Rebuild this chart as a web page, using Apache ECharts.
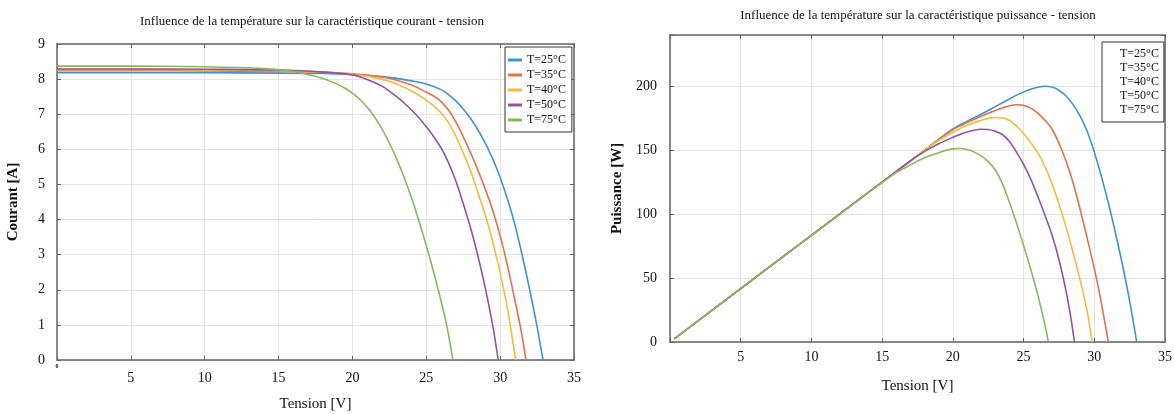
<!DOCTYPE html>
<html>
<head>
<meta charset="utf-8">
<script src="https://cdn.jsdelivr.net/npm/echarts@6/dist/echarts.min.js"></script>
<style>
html,body{margin:0;padding:0;background:#fff;}
#c{width:1174px;height:414px;}
</style>
</head>
<body>
<div id="c"></div>
<script>
// ---- Data ----
const seriesNames = ['T=25°C', 'T=35°C', 'T=40°C', 'T=50°C', 'T=75°C'];
const xTicks = [0, 5, 10, 15, 20, 25, 30, 35];

// Courant - tension  [V, I]
const iv25 = [[0,8.18],[5,8.18],[10,8.18],[15,8.17],[18,8.16],[20,8.13],[22,8.07],[23,8.02],[24,7.95],[25,7.86],[26,7.7],[26.5,7.56],[27,7.38],[27.5,7.15],[28,6.88],[28.5,6.55],[29,6.17],[29.5,5.73],[30,5.2],[30.5,4.58],[31,3.85],[31.5,2.97],[32,2.0],[32.5,0.95],[32.9,0]];
const iv35 = [[0,8.24],[5,8.24],[10,8.23],[15,8.22],[18,8.2],[20,8.15],[22,8.06],[23,7.97],[24,7.83],[25,7.63],[25.5,7.52],[26,7.36],[26.5,7.12],[27,6.78],[27.5,6.36],[28,5.9],[28.5,5.4],[29,4.86],[29.5,4.26],[30,3.54],[30.5,2.68],[31,1.7],[31.4,0.88],[31.75,0]];
const iv40 = [[0,8.27],[5,8.27],[10,8.26],[15,8.24],[18,8.2],[20,8.14],[22,8.0],[23,7.86],[24,7.66],[24.5,7.54],[25,7.4],[25.5,7.24],[26,7.04],[26.5,6.76],[27,6.37],[27.5,5.9],[28,5.38],[28.5,4.76],[29,4.12],[29.5,3.36],[30,2.48],[30.5,1.46],[31.05,0]];
const iv50 = [[0,8.29],[5,8.29],[10,8.28],[15,8.26],[18,8.2],[20,8.12],[21,7.99],[22,7.8],[22.5,7.66],[23,7.5],[23.5,7.32],[24,7.12],[24.5,6.9],[25,6.64],[25.5,6.36],[26,6.04],[26.5,5.62],[27,5.1],[27.5,4.46],[28,3.76],[28.5,2.96],[29,2.04],[29.5,0.98],[29.87,0]];
const iv75 = [[0,8.37],[5,8.37],[10,8.35],[14,8.3],[16,8.22],[17,8.13],[18,8.02],[19,7.85],[19.5,7.74],[20,7.6],[20.5,7.42],[21,7.2],[21.5,6.92],[22,6.58],[22.5,6.18],[23,5.72],[23.5,5.2],[24,4.62],[24.5,3.96],[25,3.26],[25.5,2.5],[26,1.68],[26.4,0.95],[26.8,0]];

// Puissance - tension  [V, P]
const pv25 = [[0.3,2.5],[5,41.7],[10,83.4],[15,125],[18,150],[20,166.5],[21,172.5],[22,178],[23,184],[24,190],[24.5,193],[25,195.5],[25.5,197.6],[26,199.2],[26.5,199.9],[27,199.3],[27.5,196.8],[28,192.3],[28.5,185.6],[29,176.5],[29.5,164.5],[30,148.5],[30.5,129.5],[31,108.5],[31.5,85],[32,60],[32.5,32],[33,0]];
const pv35 = [[0.3,2.5],[5,41.7],[10,83.4],[15,125],[18,150],[20,166],[21,171.5],[22,176.5],[23,181],[23.5,183],[24,184.7],[24.5,185.5],[25,185],[25.5,182.8],[26,179],[26.5,173.5],[27,166.5],[27.5,155.5],[28,141.5],[28.5,124.5],[29,103.5],[29.5,81],[30,57.5],[30.5,30.5],[30.8,12],[31.0,0]];
const pv40 = [[0.3,2.5],[5,41.7],[10,83.4],[15,125],[18,150],[19,157.5],[20,164],[21,169.5],[22,173.3],[22.5,174.8],[23,175.5],[23.5,175.2],[24,173.2],[24.5,168.7],[25,163],[25.5,156],[26,148],[26.5,137.5],[27,124],[27.5,108],[28,90],[28.5,70],[29,48.4],[29.5,24],[29.85,0]];
const pv50 = [[0.3,2.5],[5,41.7],[10,83.4],[15,125],[17,141.5],[18,149],[19,155],[20,160],[20.5,162.3],[21,164.2],[21.5,165.6],[22,166.3],[22.5,166.1],[23,164.8],[23.5,162.2],[24,156.8],[24.5,148.5],[25,138.8],[25.5,127.5],[26,114],[26.5,99.5],[27,84],[27.5,64.5],[28,40],[28.3,22],[28.6,0]];
const pv75 = [[0.3,2.5],[5,41.7],[10,83.4],[14,116.5],[16,132.5],[17,138.5],[18,144],[19,148],[19.5,149.8],[20,151],[20.5,151.3],[21,150.5],[21.5,148.6],[22,145.5],[22.5,141],[23,134.5],[23.5,124],[24,109],[24.5,93],[25,75.5],[25.5,57],[26,37],[26.5,14],[26.75,0]];

const ivData = [iv25, iv35, iv40, iv50, iv75];
const pvData = [pv25, pv35, pv40, pv50, pv75];

// ---- Styles ----
const colors = ['#3e93d3', '#e0724c', '#f0bd3e', '#9550a8', '#8ab75f'];
const FONT = 'Liberation Serif';
const frameColor = '#666';
const gridColor = '#e4e4e4';

function mainX(gi, hideZero, small, gap) {
  return {
    type: 'value', gridIndex: gi, min: 0, max: 35, interval: 5,
    name: 'Tension [V]', nameLocation: 'middle', nameGap: gap,
    nameTextStyle: { fontFamily: FONT, fontSize: 15, color: '#111' },
    axisLine: { show: true, onZero: false, lineStyle: { color: frameColor, width: 1.5 } },
    axisTick: { show: true, inside: true, length: 4, lineStyle: { color: frameColor } },
    splitLine: { show: true, lineStyle: { color: gridColor, width: 1 } },
    axisLabel: small ? {
      margin: 3, color: '#111', fontFamily: FONT,
      formatter: v => v === 0 ? '{s|0}' : '{n|' + v + '}',
      rich: { n: { fontSize: 14, fontFamily: FONT, color: '#111', padding: [8, 0, 0, 0] },
              s: { fontSize: 6, fontFamily: FONT, fontWeight: 'bold', color: '#111' } }
    } : {
      margin: 8, color: '#111', fontFamily: FONT, fontSize: 14,
      formatter: v => (hideZero && v === 0) ? '' : v
    }
  };
}
function frameX(gi) {
  return {
    type: 'value', gridIndex: gi, min: 0, max: 35, interval: 5, position: 'top',
    axisLine: { show: true, onZero: false, lineStyle: { color: frameColor, width: 1.5 } },
    axisTick: { show: true, inside: true, length: 4, lineStyle: { color: frameColor } },
    axisLabel: { show: false }, splitLine: { show: false }
  };
}
function mainY(gi, max, interval, name, gap, labelMargin) {
  return {
    type: 'value', gridIndex: gi, min: 0, max: max, interval: interval,
    name: name, nameLocation: 'middle', nameGap: gap,
    nameTextStyle: { fontFamily: FONT, fontSize: 15, fontWeight: 'bold', color: '#111' },
    axisLine: { show: true, onZero: false, lineStyle: { color: frameColor, width: 1.5 } },
    axisTick: { show: true, inside: true, length: 4, lineStyle: { color: frameColor } },
    splitLine: { show: true, lineStyle: { color: gridColor, width: 1 } },
    axisLabel: { margin: labelMargin, color: '#111', fontFamily: FONT, fontSize: 14,
      formatter: v => (v % interval === 0) ? v : '' }
  };
}
function frameY(gi, max, interval) {
  return {
    type: 'value', gridIndex: gi, min: 0, max: max, interval: interval, position: 'right',
    axisLine: { show: true, onZero: false, lineStyle: { color: frameColor, width: 1.5 } },
    axisTick: { show: true, inside: true, length: 4, lineStyle: { color: frameColor } },
    axisLabel: { show: false }, splitLine: { show: false }
  };
}

const series = [];
ivData.forEach((d, i) => series.push({
  name: seriesNames[i], type: 'line', xAxisIndex: 0, yAxisIndex: 0, data: d,
  showSymbol: false, smooth: 0.3, color: colors[i],
  lineStyle: { width: 1.6, color: colors[i] }, z: 2 + i
}));
pvData.forEach((d, i) => series.push({
  name: seriesNames[i], type: 'line', xAxisIndex: 2, yAxisIndex: 2, data: d,
  showSymbol: false, smooth: 0.3, color: colors[i],
  lineStyle: { width: 1.6, color: colors[i] }, z: 2 + i
}));

const chart = echarts.init(document.getElementById('c'), null, { renderer: 'canvas' });
chart.setOption({
  animation: false,
  backgroundColor: '#fff',
  title: [
    { text: 'Influence de la température sur la caractéristique courant - tension',
      left: 307, top: 10, textAlign: 'center',
      textStyle: { fontFamily: FONT, fontSize: 13, fontWeight: 'normal', color: '#111' } },
    { text: 'Influence de la température sur la caractéristique puissance - tension',
      left: 913, top: 4, textAlign: 'center',
      textStyle: { fontFamily: FONT, fontSize: 13, fontWeight: 'normal', color: '#111' } }
  ],
  legend: [
    { data: seriesNames, orient: 'vertical', left: 505, top: 47,
      icon: 'rect', itemWidth: 14, itemHeight: 3, itemGap: 3,
      padding: [7, 6, 6, 3], borderColor: '#333', borderWidth: 1, backgroundColor: '#fff',
      textStyle: { fontFamily: FONT, fontSize: 12, color: '#111', lineHeight: 12 } },
    { data: seriesNames, orient: 'vertical', left: 1102, top: 42,
      icon: 'rect', itemWidth: 12, itemHeight: 3, itemGap: 2,
      itemStyle: { opacity: 0 },
      padding: [6, 5, 6, 1], borderColor: '#333', borderWidth: 1, backgroundColor: '#fff',
      textStyle: { fontFamily: FONT, fontSize: 12, color: '#111', lineHeight: 12 } }
  ],
  grid: [
    { left: 57, right: 600, top: 44, bottom: 54, containLabel: false, outerBoundsMode: 'none' },
    { left: 670, right: 9, top: 35, bottom: 72, containLabel: false, outerBoundsMode: 'none' }
  ],
  xAxis: [ mainX(0, false, true, 37), frameX(0), mainX(1, true, false, 37), frameX(1) ],
  yAxis: [ mainY(0, 9, 1, 'Courant [A]', 36, 12), frameY(0, 9, 1),
           mainY(1, 240, 50, 'Puissance [W]', 45, 13), frameY(1, 240, 50) ],
  series: series
});
</script>
</body>
</html>
